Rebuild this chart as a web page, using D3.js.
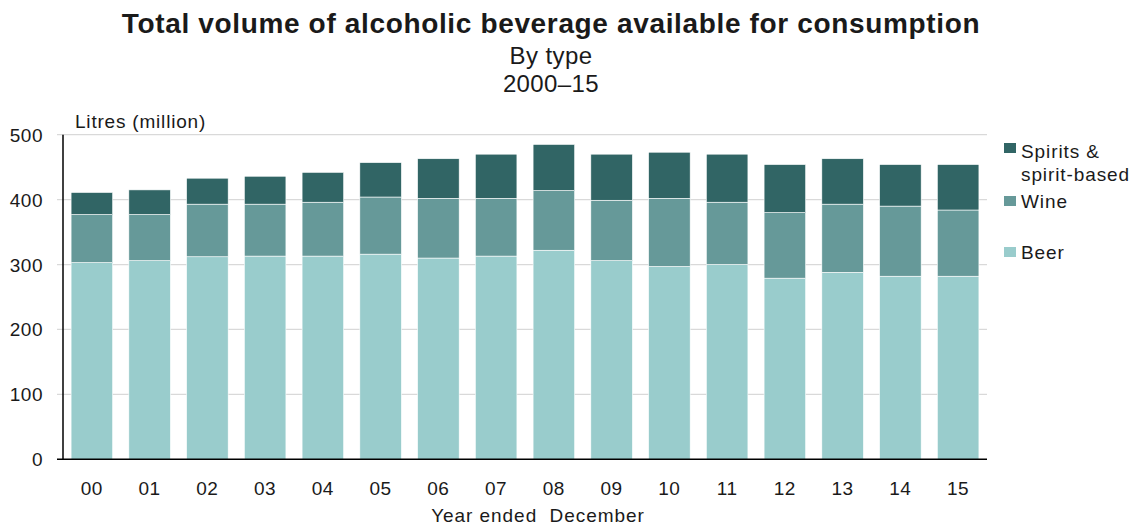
<!DOCTYPE html>
<html>
<head>
<meta charset="utf-8">
<script src="https://cdn.jsdelivr.net/npm/d3@7"></script>
<style>
  body { margin: 0; background: #fff; }
  text { font-family: "Liberation Sans", Arial, sans-serif; fill: #1a1a1a; white-space: pre; }
</style>
</head>
<body>
<svg id="chart" width="1137" height="526"></svg>
<script>
const years = ["00","01","02","03","04","05","06","07","08","09","10","11","12","13","14","15"];
const beer = [303, 306, 312, 313, 313, 316, 310, 313, 322, 306, 297, 300, 279, 288, 282, 282];
const wine = [74, 71, 81, 80, 83, 88, 92, 89, 92, 93, 105, 96, 101, 105, 108, 102];
const spirits = [34, 38, 40, 43, 46, 53, 61, 68, 71, 71, 71, 74, 74, 70, 64, 70];
const yTicks = [0, 100, 200, 300, 400, 500];
const seriesNames = ["Beer", "Wine", "Spirits & spirit-based"];
const colors = ["#99cccc", "#669999", "#316565"];

const svg = d3.select("#chart");
const x0 = 63, x1 = 987, yBottom = 459.3, yTop = 134.7;

const x = d3.scaleBand().domain(years).range([x0, x1]).paddingInner(0.28).paddingOuter(0.14);
const y = d3.scaleLinear().domain([0, 500]).range([yBottom, yTop]);

// gridlines
svg.append("g")
  .selectAll("line").data(yTicks.filter(d => d > 0)).join("line")
  .attr("x1", x0 - 6).attr("x2", x1)
  .attr("y1", d => y(d)).attr("y2", d => y(d))
  .attr("stroke", "#d9d9d9").attr("stroke-width", 1.2);

// stacked data
const table = years.map((yr, i) => ({ year: yr, Beer: beer[i], Wine: wine[i], "Spirits & spirit-based": spirits[i] }));
const stack = d3.stack().keys(seriesNames)(table);

svg.append("g").selectAll("g").data(stack).join("g")
  .attr("fill", (d, i) => colors[i])
  .selectAll("rect").data(d => d).join("rect")
  .attr("x", d => x(d.data.year))
  .attr("width", x.bandwidth())
  .attr("y", d => y(d[1]))
  .attr("height", d => y(d[0]) - y(d[1]))
  .attr("stroke", "#ffffff").attr("stroke-width", 0.6);

// axes lines
svg.append("line").attr("x1", x0).attr("x2", x0).attr("y1", yTop).attr("y2", yBottom)
  .attr("stroke", "#000").attr("stroke-width", 1.5);
svg.append("line").attr("x1", x0 - 6).attr("x2", x1).attr("y1", yBottom).attr("y2", yBottom)
  .attr("stroke", "#000").attr("stroke-width", 1.5);

// y tick labels
svg.append("g").selectAll("text").data(yTicks).join("text")
  .attr("x", 43).attr("y", d => y(d) + 7)
  .attr("text-anchor", "end").attr("font-size", 19).attr("letter-spacing", 0.5)
  .text(d => d);

// x tick labels
svg.append("g").selectAll("text").data(years).join("text")
  .attr("x", d => x(d) + x.bandwidth() / 2).attr("y", 495)
  .attr("text-anchor", "middle").attr("font-size", 19).attr("letter-spacing", 0.5)
  .text(d => d);

// axis titles
svg.append("text").attr("x", 75).attr("y", 128).attr("font-size", 19).attr("letter-spacing", 0.8)
  .text("Litres (million)");
svg.append("text").attr("x", 538).attr("y", 522).attr("text-anchor", "middle").attr("font-size", 19)
  .attr("letter-spacing", 0.95).text("Year ended  December");

// titles
svg.append("text").attr("x", 551).attr("y", 33).attr("text-anchor", "middle")
  .attr("font-size", 28).attr("font-weight", "bold").attr("letter-spacing", 0.65)
  .text("Total volume of alcoholic beverage available for consumption");
svg.append("text").attr("x", 551).attr("y", 64).attr("text-anchor", "middle")
  .attr("font-size", 24).attr("letter-spacing", 0.4).text("By type");
svg.append("text").attr("x", 551).attr("y", 92).attr("text-anchor", "middle")
  .attr("font-size", 24).attr("letter-spacing", 0.4).text("2000–15");

// legend
const legend = [
  { name: ["Spirits &", "spirit-based"], color: colors[2], ry: 143, ty: 158 },
  { name: ["Wine"], color: colors[1], ry: 196, ty: 208 },
  { name: ["Beer"], color: colors[0], ry: 247, ty: 259 }
];
const lg = svg.append("g").selectAll("g").data(legend).join("g");
lg.append("rect").attr("x", 1004).attr("y", d => d.ry).attr("width", 12).attr("height", 10)
  .attr("fill", d => d.color);
lg.append("text").attr("x", 1021).attr("y", d => d.ty).attr("font-size", 19).attr("letter-spacing", 0.9)
  .selectAll("tspan").data(d => d.name).join("tspan")
  .attr("x", 1021).attr("dy", (d, i) => i === 0 ? 0 : 23).text(d => d);
</script>
</body>
</html>
